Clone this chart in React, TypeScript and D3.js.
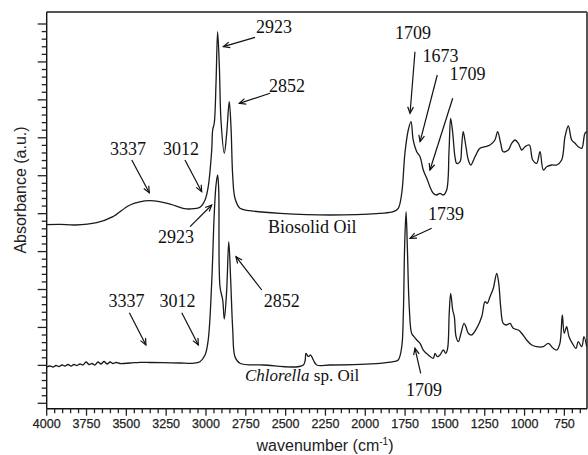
import React from "react";
import * as d3 from "d3";

// Biosolid Oil spectrum: [wavenumber, absorbance a.u.]
const biosolidWn = [4000,3917,3822,3686,3584,3477,3352,3226,3144,3100,3038,3006,2986,2964,2958,2948,2937,2927,2916,2906,2885,2870,2854,2843,2832,2818,2787,2724,2535,2222,1908,1824,1793,1771,1751,1730,1713,1699,1677,1656,1636,1614,1594,1573,1552,1531,1510,1489,1474,1464,1451,1437,1426,1405,1395,1385,1368,1353,1338,1311,1280,1248,1217,1186,1169,1150,1134,1102,1081,1060,1039,1018,997,970,949,924,903,882,861,830,798,767,746,725,704,683,663,641,621,608];
const biosolidAbs = [4.709,4.719,4.701,4.761,4.920,5.228,5.341,5.254,5.141,5.123,5.167,5.360,5.711,6.678,7.205,7.390,8.445,9.797,8.874,7.469,6.591,7.118,7.952,7.292,5.974,5.405,5.141,5.078,5.009,4.964,5.009,5.051,5.141,5.544,6.599,7.205,7.424,6.942,6.633,6.501,6.151,5.932,5.711,5.537,5.492,5.537,5.492,5.624,6.678,7.514,7.126,6.501,6.327,6.370,6.765,7.161,6.765,6.414,6.283,6.501,6.723,6.765,6.810,6.942,7.161,6.855,6.633,6.678,6.855,6.942,6.855,6.678,6.765,6.810,6.414,6.327,6.633,6.151,6.238,6.283,6.283,6.414,7.029,7.311,6.942,6.855,6.765,6.723,7.118,7.161];

// Chlorella sp. Oil spectrum
const chlorellaWn = [4000,3979,3960,3942,3923,3904,3885,3866,3847,3829,3810,3791,3772,3753,3734,3716,3697,3678,3659,3640,3621,3602,3584,3565,3540,3477,3414,3351,3270,3163,3082,3038,3006,2986,2964,2948,2937,2927,2920,2912,2895,2885,2870,2857,2845,2832,2818,2787,2640,2389,2372,2358,2343,2326,2305,2222,1908,1824,1793,1771,1761,1753,1744,1736,1724,1709,1694,1677,1656,1636,1604,1573,1562,1548,1531,1510,1495,1483,1473,1464,1451,1441,1430,1416,1399,1380,1368,1353,1332,1301,1269,1248,1234,1217,1196,1175,1162,1150,1134,1112,1091,1071,1039,1018,987,955,924,882,851,820,798,778,763,751,736,721,700,677,663,641,627,610];
const chlorellaAbs = [0.957,0.983,0.957,0.997,0.970,1.010,0.983,1.023,0.983,1.023,0.997,1.036,1.010,1.089,1.023,1.049,1.010,1.089,1.036,1.102,1.036,1.089,1.049,1.076,1.049,1.062,1.081,1.076,1.070,1.062,1.055,1.097,1.273,1.669,3.198,5.009,5.755,6.019,5.624,3.074,2.723,2.223,2.987,4.261,3.251,1.932,1.229,1.055,1.010,1.010,1.318,1.229,1.273,1.142,1.010,1.010,1.055,1.097,1.142,1.492,2.373,4.129,5.051,4.129,2.547,1.846,1.756,1.669,1.582,1.405,1.273,1.186,1.318,1.229,1.273,1.405,1.318,1.450,2.373,2.900,2.460,2.283,1.756,1.624,1.846,2.109,2.020,1.846,1.801,1.977,2.283,2.679,2.636,2.810,3.032,3.427,3.164,2.547,2.109,2.064,2.109,1.977,1.932,1.846,1.669,1.537,1.492,1.492,1.582,1.450,1.405,1.582,2.328,1.846,2.020,1.756,1.582,1.450,1.624,1.492,1.756,1.492];

// x-axis tick labels
const xTickLabels = [4000,3750,3500,3250,3000,2750,2500,2250,2000,1750,1500,1250,1000,750];

// Peak annotations: label text, label [wn, abs], arrow from [wn, abs] to [wn, abs]
const annTexts = ["3337","3012","2923","2852","2923","1709","1673","1709","1739","2852","3337","3012","1709"];
const annLabel = [[3490,6.546],[3157,6.546],[2573,9.763],[2491,8.207],[3188,4.226],[1700,9.605],[1528,8.998],[1358,8.524],[1493,4.833],[2525,2.539],[3499,2.547],[3179,2.547],[1631,0.192]];
const annFrom = [[3466,6.415],[3132,6.415],[2692,9.649],[2598,8.173],[3100,4.656],[1688,9.270],[1548,8.656],[1451,8.041],[1583,4.614],[2650,2.987],[3481,2.389],[3152,2.389],[1652,0.791]];
const annTo = [[3356,5.552],[3027,5.579],[2891,9.402],[2791,7.909],[2964,5.228],[1719,7.646],[1656,6.897],[1594,6.151],[1719,4.350],[2812,3.865],[3377,1.537],[3048,1.537],[1688,1.450]];

// Sample name labels [wn, abs]
const biosolidLabelPos = [2611, 4.49];
const chlorellaLabelPos = [2755, 0.588];

const W = 588, H = 455;
const L = 46.7, R = 587, T = 12, B = 408.7;

export default function App() {
  const x = d3.scaleLinear().domain([4000, 608]).range([L, R]);
  const y = d3.scaleLinear().domain([0, 10]).range([403.3, 24]);

  const line = d3.line<[number, number]>().x(d => x(d[0])).y(d => y(d[1])).curve(d3.curveCatmullRom.alpha(0.5));
  const bio: [number, number][] = biosolidWn.map((w, i) => [w, biosolidAbs[i]]);
  const chl: [number, number][] = chlorellaWn.map((w, i) => [w, chlorellaAbs[i]]);

  const xTicks = d3.range(4000, 607, -50);
  const yTicks = d3.range(0, 51).map(i => i * 0.2).filter(v => y(v) > T + 2);

  const serif = "'Liberation Serif', 'Times New Roman', serif";
  const sans = "'Liberation Sans', Arial, sans-serif";

  const arrowHead = (fx: number, fy: number, tx: number, ty: number) => {
    const a = Math.atan2(ty - fy, tx - fx);
    const len = 7, sp = 0.42;
    const p1 = [tx - len * Math.cos(a - sp), ty - len * Math.sin(a - sp)];
    const p2 = [tx - len * Math.cos(a + sp), ty - len * Math.sin(a + sp)];
    return `M${p1[0]},${p1[1]}L${tx},${ty}L${p2[0]},${p2[1]}`;
  };

  return (
    <svg width={W} height={H} style={{ position: "absolute", left: 0, top: 0, background: "#fff" }}>
      <rect x={0} y={0} width={W} height={H} fill="#fff" />
      {/* frame */}
      <line x1={L} x2={R} y1={T} y2={T} stroke="#555" strokeWidth={2} />
      <line x1={R} x2={R} y1={T} y2={B} stroke="#555" strokeWidth={2} />
      <line x1={L} x2={L} y1={T} y2={B} stroke="#111" strokeWidth={1.4} />
      <line x1={L} x2={R} y1={B} y2={B} stroke="#111" strokeWidth={1.4} />

      {/* y ticks */}
      {yTicks.map((v, i) => {
        const major = Math.abs(v - Math.round(v)) < 1e-6;
        return <line key={"y" + i} x1={L - (major ? 9 : 5)} x2={L} y1={y(v)} y2={y(v)} stroke="#222" strokeWidth={1.3} />;
      })}
      {/* x ticks */}
      {xTicks.map((v, i) => {
        const major = v % 250 === 0;
        return <line key={"x" + i} x1={x(v)} x2={x(v)} y1={B} y2={B + (major ? 7 : 4.5)} stroke="#222" strokeWidth={1.3} />;
      })}
      {xTickLabels.map(v => (
        <text key={"xl" + v} x={x(v)} y={428} textAnchor="middle" fontFamily={sans} fontSize={12.5} fill="#222" stroke="#222" strokeWidth={0.25}>{v}</text>
      ))}
      <text x={325} y={451} textAnchor="middle" fontFamily={sans} fontSize={16} fill="#222">
        wavenumber (cm<tspan fontSize={10} dy={-6}>-1</tspan><tspan dy={6}>)</tspan>
      </text>
      <text transform="translate(26,190) rotate(-90)" textAnchor="middle" fontFamily={sans} fontSize={16} fill="#222">Absorbance (a.u.)</text>

      {/* spectra */}
      <path d={line(bio) || ""} fill="none" stroke="#1a1a1a" strokeWidth={1.3} strokeLinejoin="round" />
      <path d={line(chl) || ""} fill="none" stroke="#1a1a1a" strokeWidth={1.3} strokeLinejoin="round" />

      {/* annotations */}
      {annTexts.map((t, i) => {
        const fx = x(annFrom[i][0]), fy = y(annFrom[i][1]);
        const tx = x(annTo[i][0]), ty = y(annTo[i][1]);
        return (
          <g key={"a" + i}>
            <text x={x(annLabel[i][0])} y={y(annLabel[i][1])} textAnchor="middle" fontFamily={serif} fontSize={18} fill="#111">{t}</text>
            <line x1={fx} y1={fy} x2={tx} y2={ty} stroke="#111" strokeWidth={1.2} />
            <path d={arrowHead(fx, fy, tx, ty)} fill="none" stroke="#111" strokeWidth={1.2} />
          </g>
        );
      })}
      <text x={x(biosolidLabelPos[0])} y={y(biosolidLabelPos[1])} fontFamily={serif} fontSize={18} fill="#111">Biosolid Oil</text>
      <text x={x(chlorellaLabelPos[0])} y={y(chlorellaLabelPos[1])} fontFamily={serif} fontSize={17} fill="#111">
        <tspan fontStyle="italic">Chlorella</tspan> sp. Oil
      </text>
    </svg>
  );
}
